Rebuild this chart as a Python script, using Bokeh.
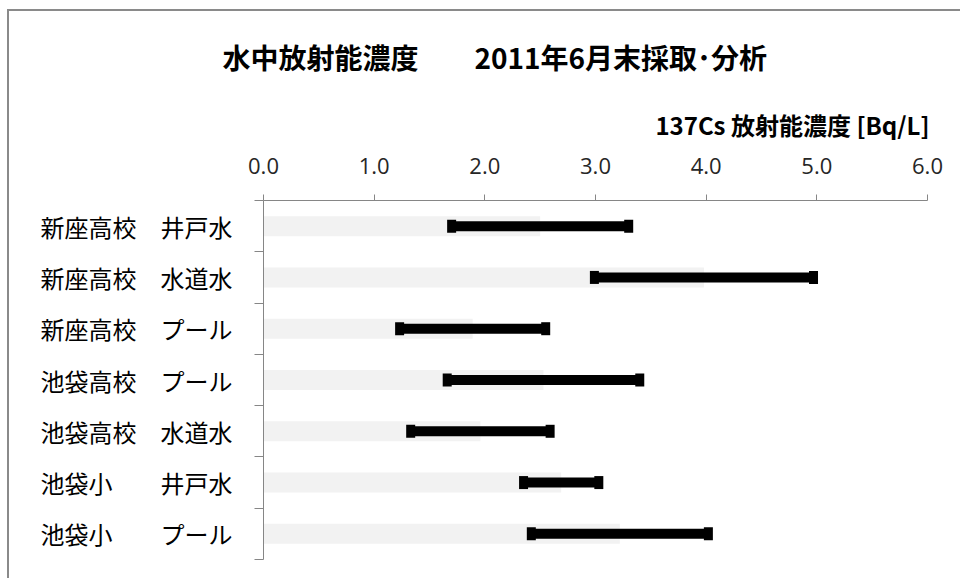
from bokeh.plotting import figure
from bokeh.models import ColumnDataSource, Range1d, FixedTicker, Title
from bokeh.embed import file_html
from bokeh.resources import INLINE

# ---- data ----
categories = ["新座高校　井戸水", "新座高校　水道水", "新座高校　プール",
              "池袋高校　プール", "池袋高校　水道水", "池袋小　　井戸水", "池袋小　　プール"]
concentration = [2.50, 3.98, 1.89, 2.53, 1.96, 2.69, 3.22]
error = [0.80, 0.99, 0.66, 0.87, 0.63, 0.34, 0.80]
x_ticks = [0.0, 1.0, 2.0, 3.0, 4.0, 5.0, 6.0]
x_tick_labels = ["0.0", "1.0", "2.0", "3.0", "4.0", "5.0", "6.0"]
title_text = "水中放射能濃度　　2011年6月末採取･分析"
axis_title = "137Cs 放射能濃度 [Bq/L]"

pos = [i + 0.5 for i in range(len(categories))]
src = ColumnDataSource(dict(
    cat=categories, pos=pos, val=concentration,
    lower=[v - e for v, e in zip(concentration, error)],
    upper=[v + e for v, e in zip(concentration, error)],
))

JP = "Noto Sans CJK JP"
GRAY = "#868686"

p = figure(width=953, height=569, output_backend="svg", toolbar_location=None,
           x_range=Range1d(0, 6), y_range=Range1d(len(categories), 0),
           x_axis_location="above",
           min_border_left=254, min_border_right=35, min_border_bottom=21, min_border_top=189,
           title=title_text)
p.styles = {"border-top": "2px solid #8a8a8a", "border-left": "2px solid #8a8a8a",
            "margin-left": "7px", "margin-top": "9px"}

p.title.text_font = JP
p.title.text_font_size = "28px"
p.title.text_font_style = "bold"
p.title.text_color = "#000000"
p.title.align = "left"
p.title.offset = -41
p.title.standoff = 39

p.add_layout(Title(text=axis_title, align="right", vertical_align="top", text_font=JP,
                   text_font_size="24px", text_font_style="bold", text_color="#000000",
                   offset=-2, standoff=21), "above")

p.xgrid.visible = False
p.ygrid.visible = False
p.outline_line_color = None
p.background_fill_color = "white"
p.border_fill_color = "white"

xa = p.xaxis[0]
xa.ticker = FixedTicker(ticks=x_ticks)
xa.major_label_overrides = {t: l for t, l in zip(x_ticks, x_tick_labels)}
xa.major_tick_out = 6
xa.major_tick_in = 0
xa.minor_tick_line_color = None
xa.axis_line_color = GRAY
xa.major_tick_line_color = GRAY
xa.major_label_text_font = "Open Sans"
xa.major_label_text_font_size = "22px"
xa.major_label_text_color = "#262626"
xa.major_label_standoff = 21

ya = p.yaxis[0]
ya.ticker = FixedTicker(ticks=pos, minor_ticks=list(range(len(categories) + 1)))
ya.major_label_overrides = {y: c for y, c in zip(pos, categories)}
ya.major_tick_out = 0
ya.major_tick_in = 0
ya.major_tick_line_color = None
ya.minor_tick_out = 9
ya.minor_tick_in = 0
ya.minor_tick_line_color = GRAY
ya.major_label_text_font = JP
ya.major_label_text_font_size = "24px"
ya.major_label_text_color = "#000000"
ya.major_label_standoff = 22
ya.axis_line_color = GRAY

p.hbar(y="pos", left=0, right="val", height=0.39, fill_color="#f2f2f2",
       line_color=None, source=src)
p.segment(x0="lower", y0="pos", x1="upper", y1="pos", line_width=10,
          line_color="black", line_cap="butt", source=src)
for col in ("lower", "upper"):
    p.rect(x=col, y="pos", width=9, height=13, width_units="screen", height_units="screen",
           fill_color="black", line_color=None, source=src)

open("out.html", "w").write(file_html(p, INLINE))
